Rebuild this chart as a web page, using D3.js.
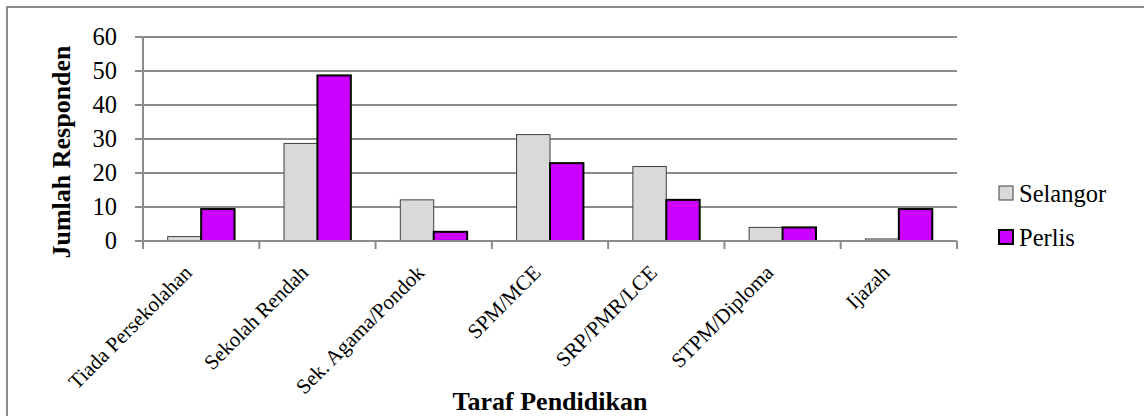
<!DOCTYPE html>
<html>
<head>
<meta charset="utf-8">
<script src="https://cdn.jsdelivr.net/npm/d3@7"></script>
<style>
  body { margin: 0; background: #fff; }
  svg text { font-family: "Liberation Serif", "Times New Roman", serif; fill: #000; }
</style>
</head>
<body>
<div id="chart"></div>
<script>
// education levels and respondent counts per state
const categories = ["Tiada Persekolahan", "Sekolah Rendah", "Sek. Agama/Pondok", "SPM/MCE",
                    "SRP/PMR/LCE", "STPM/Diploma", "Ijazah"];
const seriesNames = ["Selangor", "Perlis"];
const selangor = [1.3, 28.7, 12.1, 31.3, 21.9, 4.0, 0.6];
const perlis = [9.4, 48.7, 2.7, 22.9, 12.1, 4.0, 9.4];
const yTicks = [0, 10, 20, 30, 40, 50, 60];

const width = 1144, height = 416;
const plot = { left: 143, right: 957, top: 37, bottom: 241 };
const fills = { Selangor: "#d9d9d9", Perlis: "#cc00ff" };
const strokes = { Selangor: "#404040", Perlis: "#000" };
const big = 24.5 / 21; // 21px text scaled up to ~24.5px

const svg = d3.select("#chart").append("svg")
    .attr("width", width)
    .attr("height", height);

// outer chart frame (right/bottom edges fall outside the picture)
svg.append("rect")
    .attr("x", 7).attr("y", 7)
    .attr("width", 1160).attr("height", 430)
    .attr("fill", "none")
    .attr("stroke", "#8c8c8c")
    .attr("stroke-width", 2);

const x0 = d3.scaleBand()
    .domain(categories)
    .range([plot.left, plot.right]);
const x1 = d3.scaleBand()
    .domain(seriesNames)
    .range([0, x0.bandwidth()])
    .paddingOuter(0.74);
const y = d3.scaleLinear()
    .domain([0, 60])
    .range([plot.bottom, plot.top]);

// gridlines
svg.selectAll(".grid")
    .data(yTicks)
    .join("line")
    .attr("x1", plot.left - 8).attr("x2", plot.right)
    .attr("y1", d => y(d)).attr("y2", d => y(d))
    .attr("stroke", "#8c8c8c")
    .attr("stroke-width", 2);

// y labels
svg.selectAll(".ylab")
    .data(yTicks)
    .join("text")
    .attr("transform", d => `translate(${plot.left - 26},${y(d)}) scale(${big})`)
    .attr("dy", "0.34em")
    .attr("text-anchor", "end")
    .style("font-size", "21px")
    .text(d => d);

// vertical axis line
svg.append("line")
    .attr("x1", plot.left).attr("x2", plot.left)
    .attr("y1", plot.top).attr("y2", plot.bottom + 8)
    .attr("stroke", "#8c8c8c")
    .attr("stroke-width", 2);

// category boundary ticks
const bounds = categories.map(c => x0(c) + x0.bandwidth()).concat([plot.left]);
svg.selectAll(".xtick")
    .data(bounds)
    .join("line")
    .attr("x1", d => d).attr("x2", d => d)
    .attr("y1", plot.bottom).attr("y2", plot.bottom + 8)
    .attr("stroke", "#8c8c8c")
    .attr("stroke-width", 2);

// bars
const rows = categories.map((c, i) => ({ cat: c, Selangor: selangor[i], Perlis: perlis[i] }));
const groups = svg.selectAll(".cat")
    .data(rows)
    .join("g")
    .attr("transform", d => `translate(${x0(d.cat)},0)`);
groups.selectAll("rect")
    .data(d => seriesNames.map(s => ({ s: s, v: d[s] })))
    .join("rect")
    .attr("x", d => x1(d.s))
    .attr("y", d => y(d.v))
    .attr("width", x1.bandwidth())
    .attr("height", d => y(0) - y(d.v))
    .attr("fill", d => fills[d.s])
    .attr("stroke", d => strokes[d.s])
    .attr("stroke-width", d => d.s === "Perlis" ? 2 : 1);

// baseline drawn over bars
svg.append("line")
    .attr("x1", plot.left - 8).attr("x2", plot.right)
    .attr("y1", plot.bottom).attr("y2", plot.bottom)
    .attr("stroke", "#8c8c8c")
    .attr("stroke-width", 2);

// rotated category labels
svg.selectAll(".xlab")
    .data(categories)
    .join("text")
    .attr("class", "xlab")
    .attr("transform", d => `translate(${x0(d) + x0.bandwidth() / 2 - 8},${plot.bottom + 33}) rotate(-45)`)
    .attr("text-anchor", "end")
    .style("font-size", "21px")
    .text(d => d);

// axis titles
svg.append("text")
    .attr("x", (plot.left + plot.right) / 2)
    .attr("y", 410)
    .attr("text-anchor", "middle")
    .style("font-size", "26px")
    .style("font-weight", "bold")
    .text("Taraf Pendidikan");

svg.append("text")
    .attr("transform", `translate(70,152) rotate(-90)`)
    .attr("text-anchor", "middle")
    .style("font-size", "26px")
    .style("font-weight", "bold")
    .text("Jumlah Responden");

// legend
const legend = svg.selectAll(".leg")
    .data(seriesNames)
    .join("g")
    .attr("transform", (d, i) => `translate(999,${186 + i * 44})`);
legend.append("rect")
    .attr("width", 14).attr("height", 14)
    .attr("fill", d => fills[d])
    .attr("stroke", d => strokes[d])
    .attr("stroke-width", d => d === "Perlis" ? 2 : 1);
legend.append("text")
    .attr("transform", `translate(20,16) scale(${big})`)
    .style("font-size", "21px")
    .text(d => d);
</script>
</body>
</html>
